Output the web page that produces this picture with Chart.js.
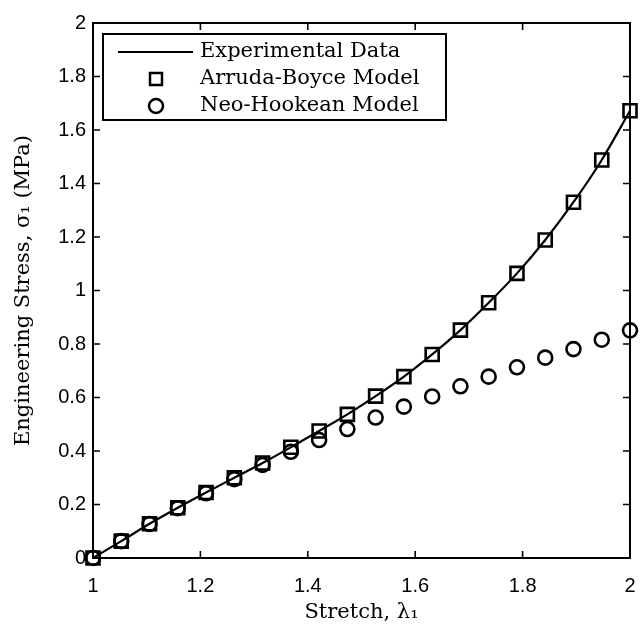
<!DOCTYPE html>
<html>
<head>
  <script src="https://cdn.jsdelivr.net/npm/chart.js"></script>
  <title>Engineering Stress vs Stretch</title>
  <style>
    body { margin: 0; background: #fff; }
    canvas { display: block; }
  </style>
</head>
<body>
  <canvas id="stressChart" width="642" height="629"></canvas>

  <script>
    // Stretch values (20 evenly spaced samples from 1 to 2)
    const stretch = [1.0000, 1.0526, 1.1053, 1.1579, 1.2105, 1.2632, 1.3158, 1.3684, 1.4211, 1.4737,
                     1.5263, 1.5789, 1.6316, 1.6842, 1.7368, 1.7895, 1.8421, 1.8947, 1.9474, 2.0000];

    // Engineering stress (MPa)
    const experimental = [0, 0.063, 0.128, 0.188, 0.245, 0.300, 0.355, 0.414, 0.475, 0.537,
                          0.605, 0.678, 0.761, 0.852, 0.954, 1.064, 1.189, 1.330, 1.488, 1.672];
    const arrudaBoyce  = [0, 0.063, 0.128, 0.188, 0.245, 0.300, 0.355, 0.414, 0.475, 0.537,
                          0.605, 0.678, 0.761, 0.852, 0.954, 1.064, 1.189, 1.330, 1.488, 1.672];
    const neoHookean   = [0, 0.063, 0.127, 0.186, 0.242, 0.295, 0.348, 0.397, 0.441, 0.482,
                          0.525, 0.566, 0.604, 0.642, 0.678, 0.713, 0.749, 0.781, 0.816, 0.851];

    const xTicks = [1, 1.2, 1.4, 1.6, 1.8, 2];
    const yTicks = [0, 0.2, 0.4, 0.6, 0.8, 1, 1.2, 1.4, 1.6, 1.8, 2];

    const toPoints = (ys) => ys.map((y, i) => ({ x: stretch[i], y: y }));
    const fmt = (v) => String(Math.round(v * 10) / 10);

    const serif = "'DejaVu Serif', serif";
    const sans = "'Liberation Sans', Arial, sans-serif";

    // Box frame with inward ticks on all sides, plus a matlab-style legend inside the axes
    const framePlugin = {
      id: 'framePlugin',
      afterDraw(chart) {
        const ctx = chart.ctx;
        const a = chart.chartArea;
        const xs = chart.scales.x, ys = chart.scales.y;
        const tick = 7;
        ctx.save();
        ctx.strokeStyle = '#000';
        ctx.lineWidth = 2;
        ctx.strokeRect(a.left, a.top, a.right - a.left, a.bottom - a.top);
        ctx.lineWidth = 1.6;
        ctx.beginPath();
        xTicks.forEach(v => {
          const px = xs.getPixelForValue(v);
          ctx.moveTo(px, a.bottom); ctx.lineTo(px, a.bottom - tick);
          ctx.moveTo(px, a.top); ctx.lineTo(px, a.top + tick);
        });
        yTicks.forEach(v => {
          const py = ys.getPixelForValue(v);
          ctx.moveTo(a.left, py); ctx.lineTo(a.left + tick, py);
          ctx.moveTo(a.right, py); ctx.lineTo(a.right - tick, py);
        });
        ctx.stroke();

        // legend
        const lx = 103, ly = 34, lw = 343, lh = 86;
        ctx.fillStyle = '#fff';
        ctx.fillRect(lx, ly, lw, lh);
        ctx.lineWidth = 2;
        ctx.strokeRect(lx, ly, lw, lh);
        ctx.font = '21px ' + serif;
        ctx.textBaseline = 'middle';
        ctx.textAlign = 'left';
        ctx.fillStyle = '#000';
        const rows = [52, 79, 106];
        chart.data.datasets.forEach((ds, i) => {
          const y = rows[i];
          if (ds.showLine) {
            ctx.lineWidth = 2;
            ctx.beginPath();
            ctx.moveTo(118, y); ctx.lineTo(193, y);
            ctx.stroke();
          } else {
            ctx.lineWidth = 2.5;
            ctx.beginPath();
            if (ds.pointStyle === 'rect') {
              ctx.rect(150, y - 6, 12, 12);
            } else {
              ctx.arc(156, y, 7, 0, Math.PI * 2);
            }
            ctx.stroke();
          }
          ctx.fillText(ds.label, 200, y);
        });
        ctx.restore();
      }
    };

    new Chart(document.getElementById('stressChart').getContext('2d'), {
      type: 'scatter',
      data: {
        datasets: [
          {
            label: 'Experimental Data',
            data: toPoints(experimental),
            showLine: true,
            borderColor: '#000',
            borderWidth: 2.2,
            pointRadius: 0,
            cubicInterpolationMode: 'monotone',
            clip: false,
            order: 0
          },
          {
            label: 'Arruda-Boyce Model',
            data: toPoints(arrudaBoyce),
            showLine: false,
            pointStyle: 'rect',
            pointRadius: 9.2,
            pointBorderWidth: 2.6,
            pointBorderColor: '#000',
            pointBackgroundColor: 'rgba(0,0,0,0)',
            clip: false,
            order: 1
          },
          {
            label: 'Neo-Hookean Model',
            data: toPoints(neoHookean),
            showLine: false,
            pointStyle: 'circle',
            pointRadius: 7,
            pointBorderWidth: 2.6,
            pointBorderColor: '#000',
            pointBackgroundColor: 'rgba(0,0,0,0)',
            clip: false,
            order: 2
          }
        ]
      },
      options: {
        responsive: false,
        animation: false,
        layout: { padding: { left: 0, top: 23, right: 12, bottom: 0 } },
        plugins: {
          legend: { display: false },
          tooltip: { enabled: false }
        },
        scales: {
          x: {
            type: 'linear',
            min: 1,
            max: 2,
            afterBuildTicks: (scale) => { scale.ticks = xTicks.map(v => ({ value: v })); },
            afterFit: (scale) => {
              scale.height = 71;
              scale.paddingLeft = 0;
              scale.paddingRight = 0;
            },
            grid: { display: false, drawTicks: false },
            border: { display: false },
            ticks: { color: '#000', padding: 16, font: { family: sans, size: 20 }, callback: fmt },
            title: {
              display: true,
              text: 'Stretch, λ₁',
              color: '#000',
              padding: { top: 0, bottom: 4 },
              font: { family: serif, size: 21 }
            }
          },
          y: {
            type: 'linear',
            min: 0,
            max: 2,
            afterBuildTicks: (scale) => { scale.ticks = yTicks.map(v => ({ value: v })); },
            afterFit: (scale) => {
              scale.width = 93;
              scale.paddingTop = 0;
              scale.paddingBottom = 0;
            },
            grid: { display: false, drawTicks: false },
            border: { display: false },
            ticks: { color: '#000', padding: 7, font: { family: sans, size: 20 }, callback: fmt },
            title: {
              display: true,
              text: 'Engineering Stress, σ₁ (MPa)',
              color: '#000',
              padding: { top: 11, bottom: 0 },
              font: { family: serif, size: 21 }
            }
          }
        }
      },
      plugins: [framePlugin]
    });
  </script>
</body>
</html>
